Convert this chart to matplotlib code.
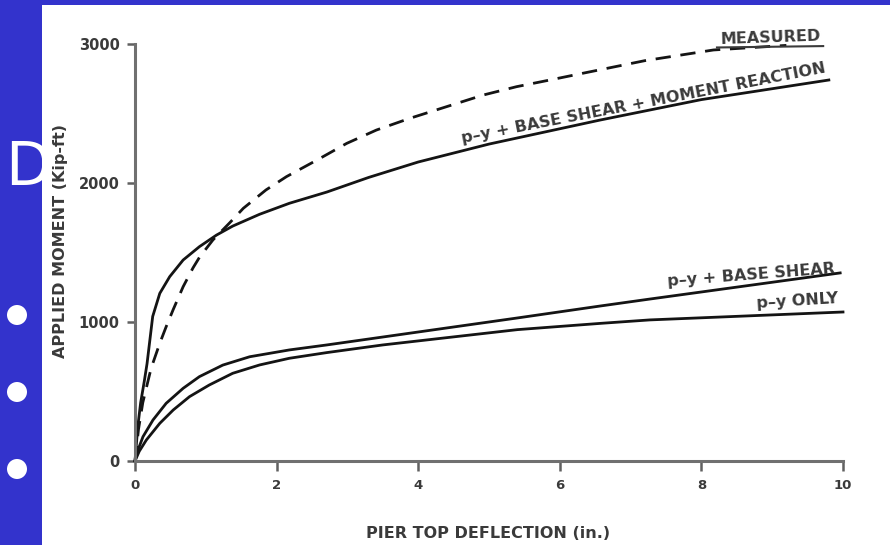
import matplotlib
matplotlib.use("Agg")
import matplotlib.pyplot as plt
from matplotlib.patches import Rectangle, Ellipse

# ---------------- data ----------------
measured_x = [0, 0.05, 0.11, 0.21, 0.25, 0.35, 0.44, 0.54, 0.68, 0.82, 0.91, 1.10,
              1.34, 1.53, 1.85, 2.14, 2.57, 2.99, 3.41, 3.88, 4.40, 4.92, 5.39,
              5.86, 6.33, 7.20, 8.17, 9.20]
measured_y = [0, 230, 420, 631, 700, 847, 966, 1090, 1254, 1390, 1465, 1590,
              1715, 1818, 1950, 2046, 2165, 2285, 2381, 2465, 2549, 2633, 2693,
              2741, 2790, 2880, 2957, 2990]

moment_x = [0, 0.04, 0.08, 0.13, 0.17, 0.21, 0.25, 0.35, 0.49, 0.68, 0.91, 1.15,
            1.38, 1.76, 2.18, 2.71, 3.30, 4.0, 5.0, 6.57, 8.0, 9.8]
moment_y = [0, 250, 420, 570, 700, 870, 1040, 1206, 1326, 1446, 1542, 1625,
            1690, 1775, 1854, 1935, 2040, 2151, 2280, 2453, 2600, 2741]

shear_x = [0, 0.05, 0.113, 0.254, 0.44, 0.68, 0.91, 1.24, 1.62, 2.18, 2.71, 3.5,
           5.4, 6.57, 7.27, 9.96]
shear_y = [0, 90, 175, 295, 415, 523, 607, 690, 750, 799, 835, 892,
           1029, 1115, 1165, 1353]

py_x = [0, 0.06, 0.16, 0.35, 0.54, 0.77, 1.05, 1.38, 1.76, 2.18, 2.71, 3.5,
        5.4, 6.57, 7.27, 10.0]
py_y = [0, 70, 151, 271, 367, 463, 547, 631, 691, 739, 780, 835,
        945, 990, 1015, 1072]

x_ticks = [0, 2, 4, 6, 8, 10]
y_ticks = [0, 1000, 2000, 3000]
x_tick_labels = ["0", "2", "4", "6", "8", "10"]
y_tick_labels = ["0", "1000", "2000", "3000"]

label_measured = "MEASURED"
label_moment = "p\u2013y + BASE SHEAR + MOMENT REACTION"
label_shear = "p\u2013y + BASE SHEAR"
label_py = "p\u2013y ONLY"
x_title = "PIER TOP DEFLECTION (in.)"
y_title = "APPLIED MOMENT (Kip-ft)"

# ---------------- figure ----------------
W, H = 890, 545
fig = plt.figure(figsize=(W / 100, H / 100), dpi=100)
fig.patch.set_facecolor("white")

blue = "#3333CC"
fig.add_artist(Rectangle((0, 0), 42 / W, 1, transform=fig.transFigure,
                         facecolor=blue, edgecolor="none", zorder=0))
fig.add_artist(Rectangle((0, 1 - 5 / H), 1, 5 / H, transform=fig.transFigure,
                         facecolor=blue, edgecolor="none", zorder=0))
fig.text(5 / W, 1 - 185 / H, "D", fontsize=43, color="white",
         ha="left", va="baseline", family="DejaVu Sans")
for cy in (315, 392, 469):
    fig.add_artist(Ellipse((17 / W, 1 - cy / H), 20 / W, 20 / H,
                           transform=fig.transFigure, facecolor="white",
                           edgecolor="none", zorder=2))

ax = fig.add_axes([135 / W, (H - 461) / H, 708 / W, 417 / H])
ax.set_facecolor("none")
ax.set_xlim(0, 10)
ax.set_ylim(0, 3000)

line_col = "#141414"
ax.plot(measured_x, measured_y, color=line_col, lw=2.0,
        linestyle=(0, (5.5, 3.5)), solid_capstyle="butt", clip_on=False)
ax.plot(moment_x, moment_y, color=line_col, lw=2.0, clip_on=False)
ax.plot(shear_x, shear_y, color=line_col, lw=2.0, clip_on=False)
ax.plot(py_x, py_y, color=line_col, lw=2.0, clip_on=False)

txt_col = "#3a3a3a"
tkw = dict(color=txt_col, fontweight="bold", fontsize=11.5,
           ha="center", va="center", rotation_mode="anchor", clip_on=False)
ax.text(8.97, 3045, label_measured, rotation=2, **tkw)
ax.plot([8.22, 9.72], [2975, 2985], color=txt_col, lw=1.5, clip_on=False)
ax.text(7.18, 2575, label_moment, rotation=11, **tkw)
ax.text(8.71, 1340, label_shear, rotation=4.4, **tkw)
ax.text(9.35, 1148, label_py, rotation=3.5, **tkw)

for side in ("top", "right"):
    ax.spines[side].set_visible(False)
for side in ("left", "bottom"):
    ax.spines[side].set_color("#707070")
    ax.spines[side].set_linewidth(2.2)

ax.set_xticks(x_ticks, x_tick_labels, fontweight="bold", fontsize=9.5, color=txt_col)
ax.set_yticks(y_ticks, y_tick_labels, fontweight="bold", fontsize=10.5, color=txt_col)
ax.tick_params(axis="both", direction="out", width=1.8, color="#606060")
ax.tick_params(axis="x", length=7, pad=6)
ax.tick_params(axis="y", length=6, pad=5)

ax.set_xlabel(x_title, fontweight="bold", fontsize=11.5, color=txt_col)
ax.set_ylabel(y_title, fontweight="bold", fontsize=11.5, color=txt_col)
ax.xaxis.set_label_coords((488 - 135) / 708, -(526 - 461) / 417)
ax.yaxis.set_label_coords(-(135 - 68) / 708, (461 - 241) / 417)

fig.savefig("out.png", dpi=100, facecolor="white")
